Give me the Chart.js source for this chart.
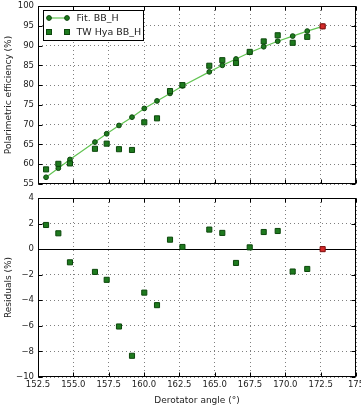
<!DOCTYPE html>
<html><head><meta charset="utf-8">
<script src="https://cdn.jsdelivr.net/npm/chart.js@4"></script>
<style>
html,body{margin:0;padding:0;background:#fff;}
#wrap{position:relative;width:361px;height:408px;overflow:hidden;}
#c1{position:absolute;left:0;top:0;}
#c2{position:absolute;left:0;top:192px;}
</style></head><body>
<div id="wrap"><canvas id="c1" width="361" height="192"></canvas><canvas id="c2" width="361" height="216"></canvas></div>
<script>
// ---- data ----
const angles    = [153.07,153.94,154.76,156.53,157.36,158.23,159.15,160.02,160.92,161.84,162.72,164.62,165.54,166.51,167.48,168.47,169.46,170.52,171.55,172.64];
const fitValues = [56.7,59.0,61.2,65.6,67.7,69.8,71.9,74.1,76.0,77.9,79.8,83.35,85.0,86.6,88.26,89.7,91.1,92.4,93.66,94.85];
const measured  = [58.7,60.1,60.2,63.9,65.2,63.8,63.6,70.6,71.6,78.5,80.0,84.9,86.3,85.6,88.4,91.05,92.6,90.7,92.2,94.85];
const residuals = [1.89,1.24,-1.03,-1.78,-2.40,-6.05,-8.34,-3.40,-4.38,0.74,0.17,1.53,1.27,-1.08,0.14,1.34,1.42,-1.75,-1.55,0.0];
const xTickLabels = ['152.5','155.0','157.5','160.0','162.5','165.0','167.5','170.0','172.5','175'];
const topYTicks = [55,60,65,70,75,80,85,90,95,100];
const botYTicks = [-10,-8,-6,-4,-2,0,2,4];
const seriesNames = ['Fit. BB_H','TW Hya BB_H'];

// ---- styles ----
const FONT = "'DejaVu Sans', sans-serif";
const GREEN_FILL = '#1e7a1e', GREEN_EDGE = '#0c470c', LINE_GREEN = '#62c452';
const RED_FILL = '#d42a2a', RED_EDGE = '#7a0a0a';
const GRID = 'rgba(0,0,0,0.5)';
const SQ = 3.6, CIR = 2.4;
const n = angles.length;
const pts = (ys) => ys.map((y,i)=>({x:angles[i], y}));

function frame(zeroLine){
  return {
    id:'frame',
    beforeDatasetsDraw(chart){
      if(!zeroLine) return;
      const {ctx, chartArea:a, scales:{y}} = chart;
      const py = Math.round(y.getPixelForValue(0))+0.5;
      ctx.save(); ctx.strokeStyle='#000'; ctx.lineWidth=1;
      ctx.beginPath(); ctx.moveTo(a.left,py); ctx.lineTo(a.right,py); ctx.stroke(); ctx.restore();
    },
    afterDatasetsDraw(chart){
      const {ctx, chartArea:a, scales:{x,y}} = chart;
      ctx.save(); ctx.strokeStyle='#000'; ctx.lineWidth=1;
      const L=Math.round(a.left)+0.5, R=Math.round(a.right)-0.5, T=Math.round(a.top)+0.5, B=Math.round(a.bottom)-0.5;
      ctx.strokeRect(L,T,R-L,B-T);
      ctx.beginPath();
      x.ticks.forEach(t=>{const px=Math.round(x.getPixelForValue(t.value))+0.5; ctx.moveTo(px,T); ctx.lineTo(px,T+4); ctx.moveTo(px,B); ctx.lineTo(px,B-4);});
      y.ticks.forEach(t=>{const py=Math.round(y.getPixelForValue(t.value))+0.5; ctx.moveTo(L,py); ctx.lineTo(L+4,py); ctx.moveTo(R,py); ctx.lineTo(R-4,py);});
      ctx.stroke(); ctx.restore();
    }
  };
}

const legendPlugin = {
  id:'mplLegend',
  afterDraw(chart){
    const ctx = chart.ctx, a = chart.chartArea;
    const bx = a.left+5.5, by = a.top+4.5, bw = 100, bh = 30;
    ctx.save();
    ctx.fillStyle='#fff'; ctx.fillRect(bx,by,bw,bh);
    ctx.strokeStyle='#000'; ctx.lineWidth=1; ctx.strokeRect(bx,by,bw,bh);
    const x1 = bx+5.5, x2 = bx+23.5, r1 = by+7.5, r2 = by+21.5;
    ctx.strokeStyle=LINE_GREEN; ctx.lineWidth=1.2;
    ctx.beginPath(); ctx.moveTo(x1,r1); ctx.lineTo(x2,r1); ctx.stroke();
    ctx.lineWidth=1;
    [x1,x2].forEach(px=>{ctx.beginPath(); ctx.arc(px,r1,CIR,0,Math.PI*2); ctx.fillStyle=GREEN_FILL; ctx.fill(); ctx.strokeStyle=GREEN_EDGE; ctx.stroke();});
    [x1,x2].forEach(px=>{ctx.fillStyle=GREEN_FILL; ctx.fillRect(px-2.5,r2-2.5,5,5); ctx.strokeStyle=GREEN_EDGE; ctx.strokeRect(px-2.5,r2-2.5,5,5);});
    ctx.fillStyle='#222'; ctx.font='9.5px '+FONT; ctx.textBaseline='middle'; ctx.textAlign='left';
    ctx.fillText(chart.data.datasets[0].label, bx+33, r1+0.5);
    ctx.fillText(chart.data.datasets[1].label, bx+33, r2+0.5);
    ctx.restore();
  }
};

function yAxis(min,max,ticks,title,fmt){
  return {
    type:'linear', min, max,
    afterBuildTicks(s){ s.ticks = ticks.map(v=>({value:v})); },
    afterFit(s){ s.width = 38; s.paddingTop = 0; s.paddingBottom = 0; },
    ticks:{ font:{family:FONT,size:8.5}, color:'#222', padding:4, callback:fmt },
    grid:{ color:GRID, lineWidth:1, drawTicks:false },
    border:{ display:false, dash:[1,3] },
    title:{ display:true, text:title, font:{family:FONT,size:9}, color:'#222', padding:{top:3,bottom:0} }
  };
}
function xAxis(showLabels){
  return {
    type:'linear', min:152.5, max:175,
    afterBuildTicks(s){ s.ticks = xTickLabels.map((l,i)=>({value:152.5+2.5*i})); },
    afterFit(s){ s.height = showLabels ? 31 : 0; s.paddingLeft = 0; s.paddingRight = 0; },
    ticks:{ display:showLabels, font:{family:FONT,size:8.5}, color:'#222', padding:3, maxRotation:0, autoSkip:false,
            callback:(v,i)=>xTickLabels[i] },
    grid:{ color:GRID, lineWidth:1, drawTicks:false },
    border:{ display:false, dash:[1,3] },
    title:{ display:showLabels, text:'Derotator angle (°)', font:{family:FONT,size:9}, color:'#222', padding:{top:2,bottom:2} }
  };
}

const common = { responsive:false, animation:false, plugins:{legend:{display:false}, tooltip:{enabled:false}} };

new Chart(document.getElementById('c1'), {
  type:'scatter',
  data:{ datasets:[
    { label:seriesNames[0], data:pts(fitValues), showLine:true, borderColor:LINE_GREEN, borderWidth:1.2,
      pointStyle:'circle', pointRadius:CIR, pointBackgroundColor:GREEN_FILL, pointBorderColor:GREEN_EDGE, pointBorderWidth:1, order:2 },
    { label:seriesNames[1], data:pts(measured).slice(0,n-1), showLine:false,
      pointStyle:'rect', pointRadius:SQ, pointBackgroundColor:GREEN_FILL, pointBorderColor:GREEN_EDGE, pointBorderWidth:1, order:1 },
    { label:'ref', data:pts(measured).slice(n-1), showLine:false,
      pointStyle:'rect', pointRadius:SQ, pointBackgroundColor:RED_FILL, pointBorderColor:RED_EDGE, pointBorderWidth:1, order:0 }
  ]},
  options:{ ...common, layout:{padding:{top:6,right:5,left:0,bottom:8}},
    scales:{ x:xAxis(false), y:yAxis(55,100,topYTicks,'Polarimetric efficiency (%)', v=>String(v)) } },
  plugins:[frame(false), legendPlugin]
});

new Chart(document.getElementById('c2'), {
  type:'scatter',
  data:{ datasets:[
    { label:'Residuals', data:pts(residuals).slice(0,n-1), showLine:false,
      pointStyle:'rect', pointRadius:SQ, pointBackgroundColor:GREEN_FILL, pointBorderColor:GREEN_EDGE, pointBorderWidth:1, order:1 },
    { label:'ref', data:pts(residuals).slice(n-1), showLine:false,
      pointStyle:'rect', pointRadius:SQ, pointBackgroundColor:RED_FILL, pointBorderColor:RED_EDGE, pointBorderWidth:1, order:0 }
  ]},
  options:{ ...common, layout:{padding:{top:6,right:5,left:0,bottom:0}},
    scales:{ x:xAxis(true), y:yAxis(-10,4,botYTicks,'Residuals (%)', v=>String(v).replace('-','\u2212')) } },
  plugins:[frame(true)]
});
</script>
</body></html>
